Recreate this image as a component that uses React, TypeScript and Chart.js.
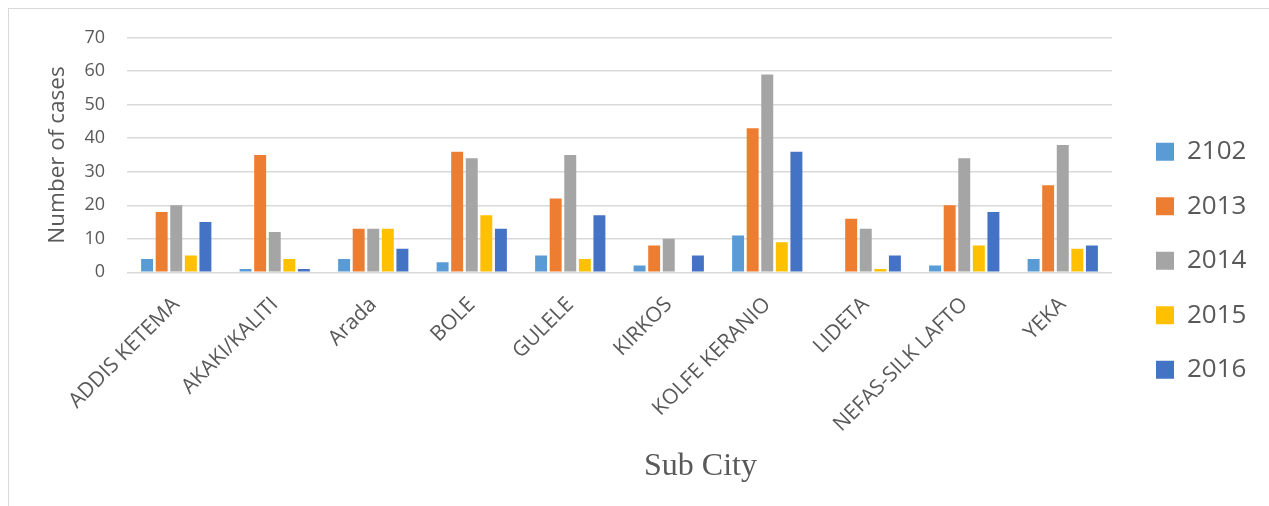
import { useEffect, useRef } from 'react';
import { Chart, registerables } from 'chart.js';

Chart.register(...registerables);

const categories = [
  'ADDIS KETEMA',
  'AKAKI/KALITI',
  'Arada',
  'BOLE',
  'GULELE',
  'KIRKOS',
  'KOLFE KERANIO',
  'LIDETA',
  'NEFAS-SILK LAFTO',
  'YEKA',
];
const seriesNames = ['2102', '2013', '2014', '2015', '2016'];
const values2102 = [4, 1, 4, 3, 5, 2, 11, null, 2, 4];
const values2013 = [18, 35, 13, 36, 22, 8, 43, 16, 20, 26];
const values2014 = [20, 12, 13, 34, 35, 10, 59, 13, 34, 38];
const values2015 = [5, 4, 13, 17, 4, null, 9, 1, 8, 7];
const values2016 = [15, 1, 7, 13, 17, 5, 36, 5, 18, 8];
const yMin = 0;
const yMax = 70;
const yStep = 10;
const yTitle = 'Number of cases';
const xTitle = 'Sub City';

const seriesColors = ['#5B9BD5', '#ED7D31', '#A5A5A5', '#FFC000', '#4472C4'];
const textColor = '#595959';
const gridColor = '#d9d9d9';

const LEGEND_PAD = 28.5;

export default function App() {
  const canvasRef = useRef<HTMLCanvasElement | null>(null);

  useEffect(() => {
    if (!canvasRef.current) return;
    const seriesValues = [values2102, values2013, values2014, values2015, values2016];

    const xTitlePlugin = {
      id: 'xTitlePlugin',
      afterDraw(chart: any) {
        const { ctx, chartArea } = chart;
        ctx.save();
        ctx.font = '32px "Liberation Serif", "Times New Roman", serif';
        ctx.fillStyle = textColor;
        ctx.textAlign = 'center';
        ctx.textBaseline = 'alphabetic';
        const cx = (chartArea.left + chartArea.right) / 2 + 81;
        ctx.fillText(xTitle, cx, chartArea.bottom + 203);
        ctx.restore();
      },
    };

    const legendShift = {
      id: 'legendShift',
      afterLayout(chart: any) {
        const lg = chart.legend;
        if (!lg) return;
        const target = chart.chartArea.right + 44;
        const d = target - (lg.left + LEGEND_PAD);
        lg.left += d;
        lg.right += d;
        lg.top -= 11;
        lg.bottom -= 11;
      },
    };

    const chart = new Chart(canvasRef.current, {
      type: 'bar',
      data: {
        labels: categories,
        datasets: seriesNames.map((name, i) => ({
          label: name,
          data: seriesValues[i],
          backgroundColor: seriesColors[i],
          borderWidth: 0,
          categoryPercentage: 0.74,
          barPercentage: 0.82,
        })),
      },
      options: {
        responsive: false,
        animation: false,
        layout: { padding: { top: 28.7, left: 0, right: 37, bottom: 0 } },
        plugins: {
          tooltip: { enabled: false },
          legend: {
            position: 'right',
            maxWidth: 120,
            labels: {
              boxWidth: 18,
              boxHeight: 18,
              padding: LEGEND_PAD,
              color: textColor,
              font: { family: '"Open Sans"', size: 26 },
            },
          },
        },
        scales: {
          x: {
            grid: { display: false, drawTicks: false },
            border: { display: false },
            ticks: {
              autoSkip: false,
              maxRotation: 45,
              minRotation: 45,
              padding: 20,
              color: textColor,
              font: { family: '"Open Sans"', size: 21 },
            },
            afterFit(scale: any) {
              scale.height = 233.7;
            },
          },
          y: {
            min: yMin,
            max: yMax,
            grid: { color: gridColor, lineWidth: 1.5, drawTicks: false },
            border: { display: false },
            ticks: {
              stepSize: yStep,
              padding: 22,
              color: textColor,
              font: { family: '"Open Sans"', size: 18 },
            },
            title: {
              display: true,
              text: yTitle,
              color: textColor,
              font: { family: '"Open Sans"', size: 22.5 },
              padding: { top: 35.5, bottom: 0 },
            },
            afterFit(scale: any) {
              scale.width = 118;
              scale.paddingTop = 0;
              scale.paddingBottom = 0;
            },
          },
        },
      },
      plugins: [xTitlePlugin, legendShift],
    } as any);

    return () => chart.destroy();
  }, []);

  return (
    <div
      style={{
        position: 'fixed',
        left: 8,
        top: 8,
        right: 0,
        height: 498,
        borderTop: '1px solid #d9d9d9',
        borderLeft: '1px solid #d9d9d9',
        boxSizing: 'border-box',
        background: '#fff',
      }}
    >
      <canvas ref={canvasRef} width={1260} height={497} style={{ display: 'block', width: 1260, height: 497 }} />
    </div>
  );
}
